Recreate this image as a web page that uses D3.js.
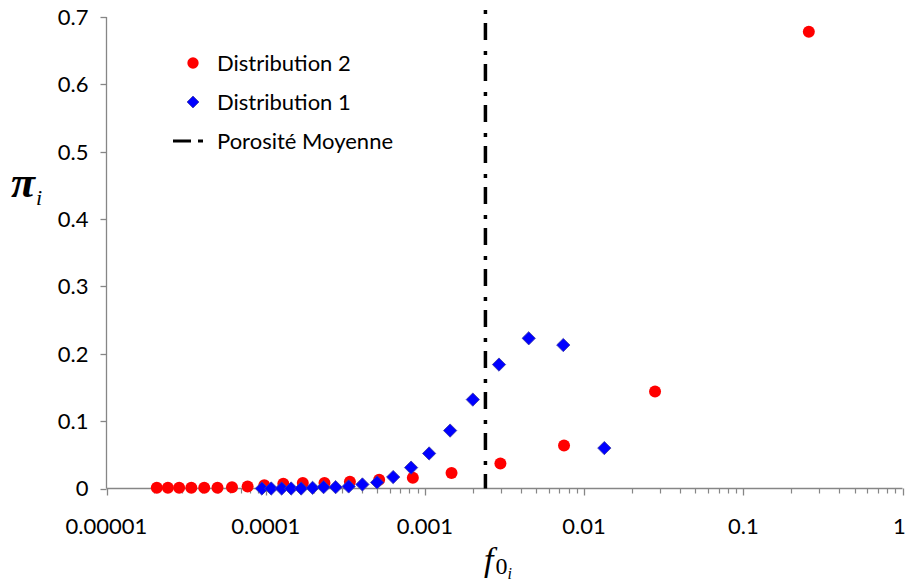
<!DOCTYPE html>
<html>
<head>
<meta charset="utf-8">
<script src="https://cdn.jsdelivr.net/npm/d3@7/dist/d3.min.js"></script>
<style>
  html, body { margin: 0; padding: 0; background: #fff; }
  svg { display: block; }
</style>
</head>
<body>
<svg id="chart" width="905" height="586"></svg>
<script>
// ---- data ----
const dist2F  = [2.07e-5, 2.43e-5, 2.86e-5, 3.41e-5, 4.11e-5, 4.98e-5, 6.14e-5, 7.7e-5, 9.8e-5, 1.29e-4,
                 1.71e-4, 2.34e-4, 3.38e-4, 5.16e-4, 8.4e-4, 1.47e-3, 2.98e-3, 7.48e-3, 2.79e-2, 0.258];
const dist2Pi = [0.001, 0.001, 0.001, 0.001, 0.001, 0.001, 0.002, 0.003, 0.005, 0.007,
                 0.008, 0.008, 0.010, 0.013, 0.016, 0.023, 0.037, 0.064, 0.144, 0.678];
const dist1F  = [9.46e-5, 1.083e-4, 1.26e-4, 1.445e-4, 1.67e-4, 1.97e-4, 2.31e-4, 2.75e-4, 3.32e-4, 4.05e-4,
                 5.01e-4, 6.32e-4, 8.19e-4, 1.063e-3, 1.44e-3, 2.0e-3, 2.92e-3, 4.49e-3, 7.40e-3, 1.34e-2];
const dist1Pi = [0, 0, 0, 0, 0, 0.001, 0.002, 0.002, 0.003, 0.006,
                 0.009, 0.017, 0.031, 0.052, 0.086, 0.132, 0.184, 0.223, 0.213, 0.060];
const porositeMoyenne = 0.0024;
const xTickValues = [1e-5, 1e-4, 1e-3, 1e-2, 1e-1, 1];
const xTickLabels = ["0.00001", "0.0001", "0.001", "0.01", "0.1", "1"];
const yTickValues = [0, 0.1, 0.2, 0.3, 0.4, 0.5, 0.6, 0.7];
const legendLabels = ["Distribution 2", "Distribution 1", "Porosité Moyenne"];

// ---- layout ----
const svg = d3.select("#chart");
const FONT = "Lato, 'Open Sans', sans-serif";
const FS = 22;
const AXIS = "#868686";
const x = d3.scaleLog().domain([1e-5, 1]).range([106.5, 902.5]);
const y = d3.scaleLinear().domain([0, 0.7]).range([488.5, 17]);

// minor ticks
const minor = [];
for (let e = -5; e < 0; e++) for (let k = 2; k <= 9; k++) minor.push(k * Math.pow(10, e));

// x axis
const gx = svg.append("g").attr("transform", `translate(0,${y(0)})`);
gx.append("line").attr("x1", x(1e-5)).attr("x2", x(1)).attr("stroke", AXIS).attr("stroke-width", 1.3);
gx.selectAll("line.minor").data(minor).join("line").attr("class", "minor")
  .attr("x1", d => Math.round(x(d)) + 0.5).attr("x2", d => Math.round(x(d)) + 0.5)
  .attr("y1", 0).attr("y2", 5).attr("stroke", AXIS).attr("stroke-width", 1.2);
gx.selectAll("line.major").data(xTickValues).join("line").attr("class", "major")
  .attr("x1", d => Math.round(x(d)) + 0.5).attr("x2", d => Math.round(x(d)) + 0.5)
  .attr("y1", 0).attr("y2", 7).attr("stroke", AXIS).attr("stroke-width", 1.3);
gx.selectAll("text").data(xTickValues).join("text")
  .attr("x", (d, i) => x(d) - (i === xTickValues.length - 1 ? 3 : 0)).attr("y", 45)
  .attr("text-anchor", "middle").attr("font-family", FONT).attr("font-size", FS)
  .attr("fill", "#000").text((d, i) => xTickLabels[i]);

// y axis
const gy = svg.append("g").attr("transform", `translate(${x(1e-5)},0)`);
gy.append("line").attr("y1", y(0.7)).attr("y2", y(0)).attr("stroke", AXIS).attr("stroke-width", 1.3);
gy.selectAll("line.t").data(yTickValues).join("line").attr("class", "t")
  .attr("x1", -6).attr("x2", 0).attr("y1", d => Math.round(y(d)) + 0.5).attr("y2", d => Math.round(y(d)) + 0.5)
  .attr("stroke", AXIS).attr("stroke-width", 1.3);
gy.selectAll("text").data(yTickValues).join("text")
  .attr("x", -18).attr("y", d => y(d)).attr("dy", "0.36em")
  .attr("text-anchor", "end").attr("font-family", FONT).attr("font-size", FS)
  .attr("fill", "#000").text(d => d === 0 ? "0" : d.toFixed(1));

// vertical porosity line
svg.append("line")
  .attr("x1", x(porositeMoyenne)).attr("x2", x(porositeMoyenne))
  .attr("y1", y(0.7105)).attr("y2", y(0))
  .attr("stroke", "#000").attr("stroke-width", 3.5)
  .attr("stroke-dasharray", "4,9,17,11");

// series
const circle = d3.symbol().type(d3.symbolCircle).size(Math.PI * 36);
const diamond = d3.symbol().type(d3.symbolSquare).size(88);
svg.append("g").selectAll("path").data(dist2F.map((f, i) => [f, dist2Pi[i]])).join("path")
  .attr("d", circle)
  .attr("transform", d => `translate(${x(d[0])},${y(d[1])})`)
  .attr("fill", "#ff0000");
svg.append("g").selectAll("path").data(dist1F.map((f, i) => [f, dist1Pi[i]])).join("path")
  .attr("d", diamond)
  .attr("transform", d => `translate(${x(d[0])},${y(d[1])}) rotate(45)`)
  .attr("fill", "#0000ff").attr("stroke", "#3a3aa8").attr("stroke-width", 0.8);

// legend
const lg = svg.append("g");
lg.append("path").attr("d", d3.symbol().type(d3.symbolCircle).size(Math.PI * 32)())
  .attr("transform", "translate(193,63)").attr("fill", "#ff0000");
lg.append("path").attr("d", d3.symbol().type(d3.symbolSquare).size(70)())
  .attr("transform", "translate(193,102) rotate(45)").attr("fill", "#0000ff")
  .attr("stroke", "#3a3aa8").attr("stroke-width", 0.8);
lg.append("line").attr("x1", 173).attr("x2", 204).attr("y1", 141).attr("y2", 141)
  .attr("stroke", "#000").attr("stroke-width", 3.2).attr("stroke-dasharray", "18,7,5,10");
lg.selectAll("text").data(legendLabels).join("text")
  .attr("x", 217).attr("y", (d, i) => 63 + i * 39).attr("dy", "0.36em")
  .attr("font-family", FONT).attr("font-size", FS).attr("fill", "#000").text(d => d);

// axis titles
const yt = svg.append("text").attr("x", 11).attr("y", 197)
  .attr("font-family", "'Liberation Serif', 'DejaVu Serif', serif").attr("fill", "#000");
yt.append("tspan").attr("font-size", 44).attr("font-weight", "bold").attr("font-style", "italic").text("π");
yt.append("tspan").attr("font-size", 22).attr("font-style", "italic").attr("dy", 8).attr("dx", 1).text("i");

const xt = svg.append("text").attr("x", 484).attr("y", 571)
  .attr("font-family", "'Liberation Serif', 'DejaVu Serif', serif").attr("fill", "#000").attr("font-style", "italic");
xt.append("tspan").attr("font-size", 34).text("f");
xt.append("tspan").attr("font-size", 24).attr("font-style", "normal").attr("dy", 3).attr("dx", 2).text("0");
xt.append("tspan").attr("font-size", 16).attr("dy", 5).text("i");
</script>
</body>
</html>
